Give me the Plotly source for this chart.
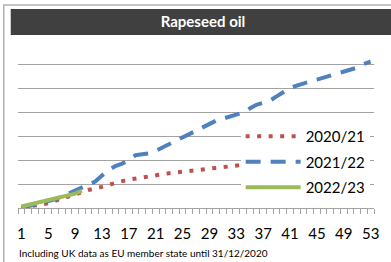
import plotly.graph_objects as go

weeks = list(range(1, 54))
tick_labels = [str(w) for w in range(1, 54, 4)]

series_2020_21 = [0.01, 0.05, 0.10, 0.15, 0.20, 0.30, 0.40, 0.48, 0.56, 0.66,
                  0.75, 0.80, 0.88, 0.96, 1.05, 1.12, 1.18, 1.23, 1.27, 1.30,
                  1.35, 1.41, 1.45, 1.48, 1.51, 1.53, 1.55, 1.60, 1.64, 1.68,
                  1.70, 1.72, 1.76, 1.79, 1.82, 1.86]
series_2021_22 = [0.00, 0.07, 0.13, 0.20, 0.26, 0.36, 0.48, 0.60, 0.72, 0.86,
                  0.98, 1.10, 1.35, 1.58, 1.75, 1.85, 2.00, 2.20, 2.24, 2.28,
                  2.38, 2.52, 2.66, 2.80, 2.97, 3.12, 3.26, 3.40, 3.52, 3.64,
                  3.72, 3.80, 3.90, 3.98, 4.15, 4.30, 4.38, 4.47, 4.65, 4.85,
                  5.00, 5.10, 5.20, 5.27, 5.35, 5.43, 5.52, 5.60, 5.67, 5.75,
                  5.85, 6.00, 6.10]
series_2022_23 = [0.06, 0.13, 0.21, 0.28, 0.35, 0.41, 0.47, 0.54, 0.60, 0.72]

W, H = 391, 262
L, R, T, B = 18.3, 15, 40, 54
PW, PH = W - L - R, H - T - B

def xp(px):
    return (px - L) / PW

def yp(py):
    return (H - B - py) / PH

FONT = "Lato"
GRID = "#a3a3a3"

fig = go.Figure()
fig.add_trace(go.Scatter(x=weeks[:len(series_2020_21)], y=series_2020_21, mode="lines",
                         name="2020/21", legendgroup="a",
                         line=dict(color="#C0504D", width=4, dash="4px,7.5px")))
fig.add_trace(go.Scatter(x=weeks[:len(series_2021_22)], y=series_2021_22, mode="lines",
                         name="2021/22", legendgroup="b",
                         line=dict(color="#4F81BD", width=4, dash="15px,10px")))
fig.add_trace(go.Scatter(x=weeks[:len(series_2022_23)], y=series_2022_23, mode="lines",
                         name="2022/23", legendgroup="c",
                         line=dict(color="#9BBB59", width=4)))

fig.update_layout(
    width=W, height=H,
    margin=dict(l=L, r=R, t=T, b=B, pad=0),
    paper_bgcolor="white", plot_bgcolor="white",
    font=dict(family=FONT, color="black"),
    title=dict(text="<b>Rapeseed oil</b>", x=203 / W, y=1 - 22 / H,
               xanchor="center", yanchor="middle",
               font=dict(family=FONT, size=15, color="white")),
    xaxis=dict(range=[0.5, 53.5], tickmode="array",
               tickvals=list(range(1, 54, 4)), ticktext=tick_labels,
               ticks="", showgrid=False, zeroline=False,
               showline=True, linecolor=GRID, linewidth=1.3,
               tickfont=dict(family=FONT, size=15, color="black"),
               ticklabelstandoff=12,
               minor=dict(ticks="outside", tick0=0.5, dtick=1, ticklen=5,
                          tickcolor=GRID, tickwidth=1, showgrid=False)),
    yaxis=dict(range=[0, 7], dtick=1, showticklabels=False, ticks="",
               showgrid=True, gridcolor=GRID, gridwidth=1.3,
               zeroline=False, showline=False),
    legend=dict(x=xp(242), y=yp(120), xanchor="left", yanchor="top",
                bgcolor="white", borderwidth=0, tracegroupgap=3,
                font=dict(family=FONT, size=15, color="black"),
                itemwidth=55),
    showlegend=True,
    shapes=[
        dict(type="rect", xref="paper", yref="paper",
             x0=xp(4), x1=xp(420), y0=yp(300), y1=yp(5),
             line=dict(color="#b4b4b4", width=1.6), fillcolor="rgba(0,0,0,0)",
             layer="above"),
        dict(type="rect", xref="paper", yref="paper",
             x0=xp(11), x1=xp(420), y0=yp(35), y1=yp(9),
             line=dict(width=0), fillcolor="#404040", layer="above"),
    ],
    annotations=[
        dict(text="Including UK data as EU member state until 31/12/2020",
             xref="paper", yref="paper", x=xp(17), y=yp(253),
             xanchor="left", yanchor="middle", showarrow=False,
             font=dict(family=FONT, size=10, color="black")),
    ],
)

fig.write_html("out.html",
               config={"displayModeBar": False},
               post_script="document.body.style.margin='0';"
                           "document.body.style.overflow='hidden';")
